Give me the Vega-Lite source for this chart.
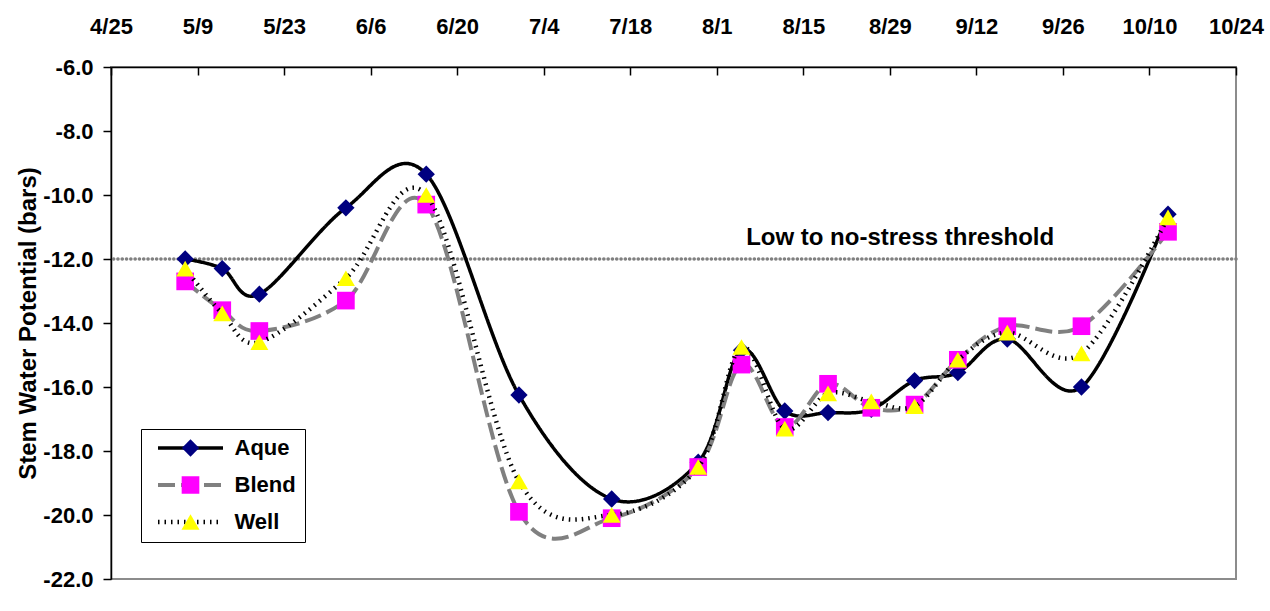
{
  "$schema": "https://vega.github.io/schema/vega-lite/v6.json",
  "width": 1125,
  "height": 512,
  "autosize": {"type": "none"},
  "padding": {"left": 111, "top": 67, "right": 34, "bottom": 32},
  "background": "white",
  "config": {
    "font": "Liberation Sans",
    "view": {"stroke": "#8c8c8c", "strokeWidth": 2},
    "axis": {
      "grid": false,
      "domainColor": "black",
      "domainWidth": 1.5,
      "tickColor": "black",
      "tickWidth": 1.5,
      "labelFont": "Liberation Sans",
      "labelFontWeight": "bold",
      "labelFontSize": 22,
      "labelColor": "black",
      "titleFont": "Liberation Sans",
      "titleFontWeight": "bold",
      "titleColor": "black"
    }
  },
  "data": {
    "values": [
      {"date": "2005-05-07", "series": "Aque", "swp": -12.0},
      {"date": "2005-05-13", "series": "Aque", "swp": -12.3},
      {"date": "2005-05-19", "series": "Aque", "swp": -13.1},
      {"date": "2005-06-02", "series": "Aque", "swp": -10.4},
      {"date": "2005-06-15", "series": "Aque", "swp": -9.35},
      {"date": "2005-06-30", "series": "Aque", "swp": -16.25},
      {"date": "2005-07-15", "series": "Aque", "swp": -19.5},
      {"date": "2005-07-29", "series": "Aque", "swp": -18.35},
      {"date": "2005-08-05", "series": "Aque", "swp": -14.85},
      {"date": "2005-08-12", "series": "Aque", "swp": -16.75},
      {"date": "2005-08-19", "series": "Aque", "swp": -16.8},
      {"date": "2005-08-26", "series": "Aque", "swp": -16.7},
      {"date": "2005-09-02", "series": "Aque", "swp": -15.8},
      {"date": "2005-09-09", "series": "Aque", "swp": -15.55},
      {"date": "2005-09-17", "series": "Aque", "swp": -14.5},
      {"date": "2005-09-29", "series": "Aque", "swp": -16.0},
      {"date": "2005-10-13", "series": "Aque", "swp": -10.6},
      {"date": "2005-05-07", "series": "Blend", "swp": -12.7},
      {"date": "2005-05-13", "series": "Blend", "swp": -13.6},
      {"date": "2005-05-19", "series": "Blend", "swp": -14.25},
      {"date": "2005-06-02", "series": "Blend", "swp": -13.3},
      {"date": "2005-06-15", "series": "Blend", "swp": -10.3},
      {"date": "2005-06-30", "series": "Blend", "swp": -19.9},
      {"date": "2005-07-15", "series": "Blend", "swp": -20.1},
      {"date": "2005-07-29", "series": "Blend", "swp": -18.5},
      {"date": "2005-08-05", "series": "Blend", "swp": -15.3},
      {"date": "2005-08-12", "series": "Blend", "swp": -17.25},
      {"date": "2005-08-19", "series": "Blend", "swp": -15.9},
      {"date": "2005-08-26", "series": "Blend", "swp": -16.65},
      {"date": "2005-09-02", "series": "Blend", "swp": -16.55},
      {"date": "2005-09-09", "series": "Blend", "swp": -15.15},
      {"date": "2005-09-17", "series": "Blend", "swp": -14.1},
      {"date": "2005-09-29", "series": "Blend", "swp": -14.1},
      {"date": "2005-10-13", "series": "Blend", "swp": -11.15},
      {"date": "2005-05-07", "series": "Well", "swp": -12.3},
      {"date": "2005-05-13", "series": "Well", "swp": -13.7},
      {"date": "2005-05-19", "series": "Well", "swp": -14.6},
      {"date": "2005-06-02", "series": "Well", "swp": -12.6},
      {"date": "2005-06-15", "series": "Well", "swp": -10.0},
      {"date": "2005-06-30", "series": "Well", "swp": -18.95},
      {"date": "2005-07-15", "series": "Well", "swp": -20.0},
      {"date": "2005-07-29", "series": "Well", "swp": -18.5},
      {"date": "2005-08-05", "series": "Well", "swp": -14.75},
      {"date": "2005-08-12", "series": "Well", "swp": -17.3},
      {"date": "2005-08-19", "series": "Well", "swp": -16.2},
      {"date": "2005-08-26", "series": "Well", "swp": -16.45},
      {"date": "2005-09-02", "series": "Well", "swp": -16.6},
      {"date": "2005-09-09", "series": "Well", "swp": -15.15},
      {"date": "2005-09-17", "series": "Well", "swp": -14.3},
      {"date": "2005-09-29", "series": "Well", "swp": -14.95},
      {"date": "2005-10-13", "series": "Well", "swp": -10.7}
    ]
  },
  "encoding": {
    "x": {
      "field": "date",
      "type": "temporal",
      "scale": {
        "type": "utc",
        "nice": false,
        "domain": [
          {"year": 2005, "month": 4, "date": 25, "utc": true},
          {"year": 2005, "month": 10, "date": 24, "utc": true}
        ]
      },
      "axis": {
        "orient": "top",
        "title": null,
        "format": "%-m/%-d",
        "values": [
          {"year": 2005, "month": 4, "date": 25, "utc": true},
          {"year": 2005, "month": 5, "date": 9, "utc": true},
          {"year": 2005, "month": 5, "date": 23, "utc": true},
          {"year": 2005, "month": 6, "date": 6, "utc": true},
          {"year": 2005, "month": 6, "date": 20, "utc": true},
          {"year": 2005, "month": 7, "date": 4, "utc": true},
          {"year": 2005, "month": 7, "date": 18, "utc": true},
          {"year": 2005, "month": 8, "date": 1, "utc": true},
          {"year": 2005, "month": 8, "date": 15, "utc": true},
          {"year": 2005, "month": 8, "date": 29, "utc": true},
          {"year": 2005, "month": 9, "date": 12, "utc": true},
          {"year": 2005, "month": 9, "date": 26, "utc": true},
          {"year": 2005, "month": 10, "date": 10, "utc": true},
          {"year": 2005, "month": 10, "date": 24, "utc": true}
        ],
        "tickSize": -8,
        "labelPadding": 37,
        "labelFlush": false,
        "labelOverlap": false
      }
    },
    "y": {
      "field": "swp",
      "type": "quantitative",
      "scale": {"domain": [-22, -6], "nice": false, "zero": false},
      "axis": {
        "title": "Stem Water Potential (bars)",
        "titleFontSize": 24,
        "titlePadding": 2,
        "values": [-22, -20, -18, -16, -14, -12, -10, -8, -6],
        "format": ".1f",
        "labelExpr": "replace(datum.label, '\u2212', '-')",
        "tickSize": 8,
        "labelPadding": 10,
        "labelOverlap": false
      }
    }
  },
  "layer": [
    {
      "data": {"values": [{"threshold": -12}]},
      "mark": {"type": "rule", "color": "#808080", "strokeWidth": 3.6, "strokeDash": [0.1, 4.2], "strokeCap": "round"},
      "encoding": {"x": null, "y": {"field": "threshold", "type": "quantitative"}}
    },
    {
      "data": {"values": [{"label": "Low to no-stress threshold", "date": "2005-08-30T16:00:00Z", "swp": -11.33}]},
      "mark": {"type": "text", "font": "Liberation Sans", "fontWeight": "bold", "fontSize": 24, "align": "center", "baseline": "middle", "color": "black"},
      "encoding": {
        "text": {"field": "label", "type": "nominal"}
      }
    },
    {
      "transform": [{"filter": "datum.series == 'Aque'"}],
      "mark": {"type": "line", "interpolate": "cardinal"},
      "encoding": {
        "stroke": {
          "field": "series",
          "type": "nominal",
          "scale": {"domain": ["Aque", "Blend", "Well"], "range": ["black", "#808080", "black"]},
          "legend": {
            "orient": "none",
            "legendX": 30,
            "legendY": 362,
            "title": null,
            "symbolType": "stroke",
            "symbolSize": 4225,
            "clipHeight": 20,
            "rowPadding": 15,
            "padding": 9,
            "strokeColor": "black",
            "symbolOffset": 5.5,
            "labelOffset": 9,
            "labelFont": "Liberation Sans",
            "labelFontWeight": "bold",
            "labelFontSize": 22,
            "labelColor": "black"
          }
        },
        "strokeDash": {
          "field": "series",
          "type": "nominal",
          "scale": {"domain": ["Aque", "Blend", "Well"], "range": [[1, 0], [17, 6], [1.5, 5]]}
        },
        "strokeWidth": {
          "field": "series",
          "type": "nominal",
          "scale": {"domain": ["Aque", "Blend", "Well"], "range": [3.5, 4.5, 1.6]}
        }
      }
    },
    {
      "transform": [{"filter": "datum.series == 'Aque'"}],
      "mark": {"type": "point", "filled": true, "strokeWidth": 0, "opacity": 1},
      "encoding": {
        "fill": {
          "field": "series",
          "type": "nominal",
          "scale": {"range": ["#000080", "#ff00ff", "#ffff00"]},
          "legend": {
            "orient": "none",
            "legendX": 30,
            "legendY": 362,
            "title": null,
            "clipHeight": 20,
            "rowPadding": 15,
            "padding": 9,
            "symbolOffset": 29.5,
            "symbolStrokeWidth": 0,
            "labelExpr": "''",
            "labelFontSize": 22
          }
        },
        "shape": {"field": "series", "type": "nominal", "scale": {"range": ["diamond", "square", "triangle-up"]}},
        "size": {"field": "series", "type": "nominal", "scale": {"range": [300, 324, 160]}}
      }
    },
    {
      "transform": [{"filter": "datum.series == 'Blend'"}],
      "mark": {"type": "line", "interpolate": "cardinal"},
      "encoding": {
        "stroke": {"field": "series", "type": "nominal"},
        "strokeDash": {"field": "series", "type": "nominal"},
        "strokeWidth": {"field": "series", "type": "nominal"}
      }
    },
    {
      "transform": [{"filter": "datum.series == 'Blend'"}],
      "mark": {"type": "point", "filled": true, "strokeWidth": 0, "opacity": 1},
      "encoding": {
        "fill": {"field": "series", "type": "nominal"},
        "shape": {"field": "series", "type": "nominal"},
        "size": {"field": "series", "type": "nominal"}
      }
    },
    {
      "transform": [{"filter": "datum.series == 'Well'"}],
      "mark": {"type": "line", "interpolate": "cardinal"},
      "encoding": {
        "stroke": {"field": "series", "type": "nominal"},
        "strokeDash": {"field": "series", "type": "nominal"},
        "strokeWidth": {"field": "series", "type": "nominal"}
      }
    },
    {
      "transform": [{"filter": "datum.series == 'Well'"}],
      "mark": {"type": "point", "filled": true, "strokeWidth": 0, "opacity": 1},
      "encoding": {
        "fill": {"field": "series", "type": "nominal"},
        "shape": {"field": "series", "type": "nominal"},
        "size": {"field": "series", "type": "nominal"}
      }
    }
  ]
}
